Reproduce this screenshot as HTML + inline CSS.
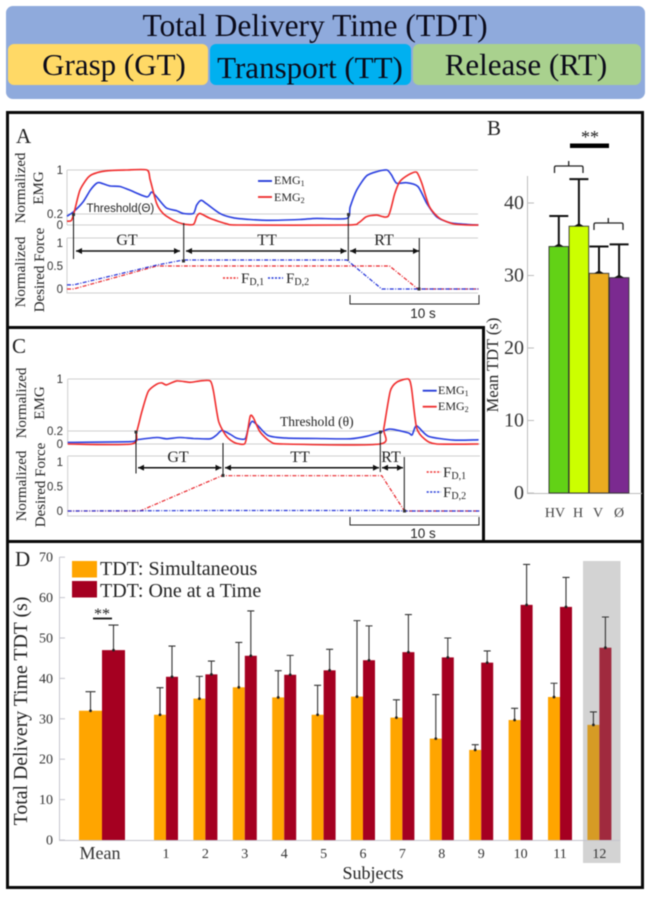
<!DOCTYPE html>
<html lang="en">
<head>
<meta charset="utf-8">
<title>Total Delivery Time figure</title>
<style>
html,body{margin:0;padding:0;background:#fff;width:650px;height:897px;overflow:hidden}
svg{display:block;font-family:"Liberation Serif",serif;filter:blur(0.4px)}
.sans{font-family:"Liberation Sans",sans-serif}
.ylab{font-size:15px;fill:#222;text-anchor:middle}
.seg{font-size:16px;fill:#222;text-anchor:middle}
.leg{font-size:12px;fill:#222}
.legf{font-size:15px;fill:#222}
.sub{font-size:8px}
.legf .sub{font-size:10px}
.letter{font-size:21px;fill:#222}
.head{fill:#0b0b1a;text-anchor:middle}
</style>
</head>
<body>
<svg id="fig" xmlns="http://www.w3.org/2000/svg" width="650" height="897" viewBox="0 0 650 897">
<defs>
<marker id="ah" markerWidth="7" markerHeight="7" refX="6" refY="3" orient="auto-start-reverse" markerUnits="userSpaceOnUse"><path d="M0,0 L6,3 L0,6 Z" fill="#111"/></marker>
</defs>

<g>
<rect x="6" y="6" width="639" height="93" rx="7" fill="#8faadc"/>
<text class="head" x="315" y="36" font-size="31.5">Total Delivery Time (TDT)</text>
<rect x="8" y="44" width="200" height="41" rx="6" fill="#ffd966"/>
<text class="head" x="114" y="75" font-size="31">Grasp (GT)</text>
<rect x="210" y="44" width="201" height="41" rx="6" fill="#00b0f0"/>
<text class="head" x="310" y="78" font-size="31">Transport (TT)</text>
<rect x="413" y="44" width="228" height="41" rx="6" fill="#a9d18e"/>
<text class="head" x="526" y="75" font-size="31">Release (RT)</text>
</g>

<g fill="none" stroke="#0a0a0a" stroke-width="3">
<rect x="7.5" y="112.5" width="635" height="775"/>
<path d="M7,327.5 H483.5 V541"/>
<path d="M7,541.5 H643"/>
</g>

<text class="letter" x="16" y="143">A</text>
<text class="letter" x="487" y="135">B</text>
<text class="letter" x="12" y="353">C</text>
<text class="letter" x="15" y="566">D</text>

<g id="panelA"></g>
<g id="panelC"></g>

<g>
<text class="ylab" transform="translate(25,188) rotate(-90)">Normalized</text>
<text class="ylab" transform="translate(43,188) rotate(-90)">EMG</text>
<text class="ylab" transform="translate(25,272) rotate(-90)">Normalized</text>
<text class="ylab" transform="translate(44,270) rotate(-90)">Desired Force</text>
<text class="sans" x="86.5" y="212" font-size="11.5" fill="#222">Threshold(Θ)</text>
<g stroke="#111" stroke-width="1" fill="none">
<path d="M73.5,214V259"/>
<path d="M183.7,223V261"/>
<path d="M348.3,215V261"/>
<path d="M419.3,238V288"/>
<g stroke-width="1.5">
<path d="M76,251H180" marker-start="url(#ah)" marker-end="url(#ah)"/>
<path d="M186,251H346.5" marker-start="url(#ah)" marker-end="url(#ah)"/>
<path d="M350,251H419" marker-start="url(#ah)" marker-end="url(#ah)"/>
</g>
</g>
<g fill="#333">
<rect x="72" y="213" width="3" height="3"/>
<rect x="182" y="259.5" width="3" height="3"/>
<rect x="347" y="213" width="3" height="3"/>
<rect x="417.5" y="287.5" width="3" height="3"/>
</g>
<text class="seg" x="127" y="245">GT</text>
<text class="seg" x="267" y="245">TT</text>
<text class="seg" x="384" y="245">RT</text>
<path d="M258,181H272" stroke="#1f35d8" stroke-width="1.8"/>
<text class="leg" x="274" y="184">EMG<tspan class="sub" dy="2">1</tspan></text>
<path d="M258,197H272" stroke="#ee2a2a" stroke-width="1.8"/>
<text class="leg" x="274" y="201">EMG<tspan class="sub" dy="2">2</tspan></text>
<path d="M223,278H238" stroke="#ee2a2a" stroke-width="1.4" stroke-dasharray="2 1.5"/>
<text class="legf" x="241" y="283">F<tspan class="sub" dy="2">D,1</tspan></text>
<path d="M268,278H283" stroke="#1f35d8" stroke-width="1.4" stroke-dasharray="2 1.5"/>
<text class="legf" x="286" y="283">F<tspan class="sub" dy="2">D,2</tspan></text>
<path d="M350,295V304H479V295" fill="none" stroke="#222" stroke-width="1"/>
<text class="sans" x="423" y="318" font-size="13.5" fill="#222" text-anchor="middle">10 s</text>
</g>

<g>
<text class="ylab" transform="translate(26,403) rotate(-90)">Normalized</text>
<text class="ylab" transform="translate(44,403) rotate(-90)">EMG</text>
<text class="ylab" transform="translate(26,486) rotate(-90)">Normalized</text>
<text class="ylab" transform="translate(45,485) rotate(-90)">Desired Force</text>
<text x="280" y="426" font-size="13.5" fill="#222">Threshold (θ)</text>
<g stroke="#111" stroke-width="1" fill="none">
<path d="M136,431V473.5"/>
<path d="M223,443V476"/>
<path d="M380.3,432V472"/>
<path d="M404.3,457V511"/>
<path d="M138,467.7H221.5" stroke-width="1.5" marker-start="url(#ah)" marker-end="url(#ah)"/>
<path d="M225,467.7H379" stroke-width="1.5" marker-start="url(#ah)" marker-end="url(#ah)"/>
<path d="M382,467.7H403" stroke-width="1.5" marker-start="url(#ah)" marker-end="url(#ah)"/>
</g>
<g fill="#333">
<rect x="134.5" y="430.5" width="3" height="3"/>
<rect x="221.5" y="474" width="3" height="3"/>
<rect x="379" y="430.5" width="3" height="3"/>
<rect x="403" y="509.5" width="3" height="3"/>
</g>
<text class="seg" x="178" y="462">GT</text>
<text class="seg" x="300" y="462">TT</text>
<text class="seg" x="391" y="462">RT</text>
<path d="M422.7,390.7H436.7" stroke="#1f35d8" stroke-width="1.8"/>
<text class="leg" x="438" y="394">EMG<tspan class="sub" dy="2">1</tspan></text>
<path d="M422.7,406.7H436.7" stroke="#ee2a2a" stroke-width="1.8"/>
<text class="leg" x="438" y="410">EMG<tspan class="sub" dy="2">2</tspan></text>
<path d="M426.7,472H441" stroke="#ee2a2a" stroke-width="1.4" stroke-dasharray="2 1.5"/>
<text class="legf" x="443" y="477">F<tspan class="sub" dy="2">D,1</tspan></text>
<path d="M426.7,492H441" stroke="#1f35d8" stroke-width="1.4" stroke-dasharray="2 1.5"/>
<text class="legf" x="443" y="497">F<tspan class="sub" dy="2">D,2</tspan></text>
<path d="M350,517V525H479V517" fill="none" stroke="#222" stroke-width="1"/>
<text class="sans" x="423" y="538" font-size="13.5" fill="#222" text-anchor="middle">10 s</text>
</g>

<g id="panelB">
<text transform="translate(498,365) rotate(-90)" font-size="16.5" fill="#222" text-anchor="middle">Mean TDT (s)</text>
</g>
<g fill="none" stroke="#222" stroke-width="1.3">
<path d="M554.5,173V167.5Q554.5,166 556,166H581.5Q583,166 583,167.5V173M568.7,166V161"/>
<path d="M594,230V224.5Q594,223 595.5,223H621.5Q623,223 623,224.5V230M608.3,223V218"/>
<rect x="570" y="143.5" width="39" height="4.5" fill="#000" stroke="none"/>
<text x="590" y="143" font-size="18" fill="#222" stroke="none" text-anchor="middle">**</text>
</g>

<g id="panelD">
<rect x="583" y="561" width="37.5" height="302" fill="#d3d3d3"/>
<text transform="translate(27,711) rotate(-90)" font-size="19.8" fill="#222" text-anchor="middle">Total Delivery Time TDT (s)</text>
<text x="373" y="879" font-size="18" fill="#222" text-anchor="middle">Subjects</text>
</g>
<g>
<rect x="72" y="561" width="25" height="16.5" fill="#ffa500"/>
<text x="100" y="575" font-size="20" fill="#222">TDT: Simultaneous</text>
<rect x="72" y="581" width="25" height="16.5" fill="#a50021"/>
<text x="100" y="597" font-size="20" fill="#222">TDT: One at a Time</text>
<path d="M93,618.5H112" stroke="#111" stroke-width="1.8"/>
<text x="102" y="619" font-size="16" fill="#222" text-anchor="middle">**</text>
</g>

<script>
// Panel A traces (time in seconds, normalized values)
var aEmg1Times = [0,0.5,1.25,1.8,2.3,2.55,3.3,4.1,4.9,6.2,6.55,6.95,7.7,8.5,9,9.8,10.05,10.4,10.8,11.85,12.9,14.2,15.75,18.05,19.35,21.7,21.95,22.45,23.2,24,24.8,25.15,25.55,26.3,27.2,27.9,28.65,29.7,31,31.9];
var aEmg1Values = [0.16,0.24,0.42,0.63,0.76,0.77,0.71,0.70,0.63,0.51,0.60,0.51,0.31,0.26,0.21,0.21,0.36,0.45,0.39,0.21,0.13,0.10,0.085,0.10,0.12,0.12,0.33,0.63,0.89,0.97,1,0.91,0.76,0.77,0.70,0.39,0.15,0.04,0.01,0];
var aEmg2Times = [0,0.35,0.6,1,1.65,2.3,3.3,4.6,6.2,6.45,6.95,7.45,8.25,9,9.8,10.05,10.3,11.1,12.4,13.4,21.7,22.6,23.2,24,24.9,25.4,25.8,26.45,27.1,27.5,28.1,28.9,29.95,31,31.9];
var aEmg2Values = [0.07,0.085,0.27,0.63,0.87,0.95,0.99,1,1,0.82,0.39,0.21,0.085,0.02,0.01,0.15,0.21,0.12,0.02,0,0,0.04,0.15,0.18,0.16,0.57,0.79,0.91,0.96,0.76,0.33,0.12,0.02,0,0];
var aForce1Times = [0,0.5,6.95,25,27.2,31.9];
var aForce1Values = [0,0,0.5,0.5,0,0];
var aForce2Times = [0,0.5,6.95,9,21.7,24.4,31.9];
var aForce2Values = [0.09,0.09,0.52,0.63,0.63,0,0];

// Panel C traces
var cEmg1Times = [0,4.85,5.35,6.9,7.65,8.7,9.75,11.05,11.55,11.95,12.6,13.1,13.75,14,14.3,14.8,15.55,17,19.3,21.9,23.2,24.2,25,26.4,26.7,27.05,27.95,29.9,31.85];
var cEmg1Values = [0.025,0.035,0.065,0.10,0.08,0.10,0.085,0.08,0.14,0.21,0.15,0.09,0.08,0.24,0.35,0.27,0.13,0.09,0.085,0.08,0.12,0.18,0.23,0.17,0.14,0.28,0.12,0.06,0.065];
var cEmg2Times = [0,4.95,5.35,5.75,6.25,6.9,7.3,7.65,8.45,9.5,10.25,11.05,11.3,11.7,12.3,12.95,13.7,13.9,14.15,14.4,14.9,15.7,16.7,24.2,24.5,25,25.5,26.4,26.65,27.05,27.7,28.6,31.85];
var cEmg2Values = [0,0,0.19,0.5,0.81,0.92,0.94,0.91,0.97,0.95,0.97,0.97,0.81,0.35,0.12,0.02,0,0.14,0.43,0.40,0.19,0.04,0,0,0.24,0.81,0.95,1,0.86,0.25,0.07,0,0];
var cForce1Times = [0,5.6,11.95,24.35,26.1,31.9];
var cForce1Values = [0,0,0.72,0.72,0,0];
var cForce2Times = [0,11.95,24.35,26.1,31.9];
var cForce2Values = [0,0.01,0.01,0,0];

var emgTicks = [0,0.2,1];
var emgTickLabels = ['0','0.2','1'];
var forceTicks = [0,0.5,1];
var forceTickLabels = ['0','0.5','1'];

// Panel B data
var bCategories = ['HV','H','V','Ø'];
var bMeans = [34,36.8,30.3,29.7];
var bUpper = [38.2,43.3,34,34.3];
var bTicks = [0,10,20,30,40];

// Panel D data
var dCategories = ['Mean','1','2','3','4','5','6','7','8','9','10','11','12'];
var dSimultaneous = [32,31,35,37.8,35.3,31,35.5,30.3,25.1,22.3,29.7,35.4,28.5];
var dSimultaneousUpper = [36.7,37.7,40.5,48.9,41.9,38.3,54.3,34.7,36,23.6,32.6,38.8,31.7];
var dOneAtATime = [47,40.4,41,45.6,40.9,42,44.5,46.5,45.2,43.9,58.2,57.7,47.6];
var dOneAtATimeUpper = [53.2,48,44.3,56.7,45.7,47.2,53,55.8,50,46.8,68.2,65,55.2];
var dTicks = [0,10,20,30,40,50,60,70];

var NS = 'http://www.w3.org/2000/svg';
function mk(parent, tag, props, text) {
  var el = document.createElementNS(NS, tag);
  for (var k in props) { el.setAttribute(k, props[k]); }
  if (text !== undefined) { el.textContent = text; }
  parent.appendChild(el);
  return el;
}

function pathFrom(times, values, xf, yf) {
  return times.map(function (t, i) {
    return (i ? 'L' : 'M') + xf(t).toFixed(1) + ',' + yf(values[i]).toFixed(1);
  }).join(' ');
}

// Gently smoothed curve through the sampled trace points
function smoothFrom(times, values, xf, yf) {
  var px = times.map(xf);
  var py = values.map(yf);
  var d = 'M' + px[0].toFixed(1) + ',' + py[0].toFixed(1);
  var k = 0.12;
  for (var i = 0; i < px.length - 1; i++) {
    var a = Math.max(i - 1, 0), b = Math.min(i + 2, px.length - 1);
    d += ' C' + (px[i] + (px[i + 1] - px[a]) * k).toFixed(1) + ',' + (py[i] + (py[i + 1] - py[a]) * k).toFixed(1) +
         ' ' + (px[i + 1] - (px[b] - px[i]) * k).toFixed(1) + ',' + (py[i + 1] - (py[b] - py[i]) * k).toFixed(1) +
         ' ' + px[i + 1].toFixed(1) + ',' + py[i + 1].toFixed(1);
  }
  return d;
}

function drawTimePanel(root, prefix, cfg) {
  var xT = function (t) { return cfg.x0 + 12.9 * t; };
  var yE = function (v) { return cfg.emg0 + (cfg.emg1 - cfg.emg0) * v; };
  var yF = function (v) { return cfg.force0 + (cfg.force1 - cfg.force0) * v; };
  var grid = '#cfcfcf';

  var frame = mk(root, 'path', { d: 'M' + cfg.x0 + ',' + yE(1) + 'V' + yE(0) + 'M' + cfg.x0 + ',' + cfg.fTop + 'H' + cfg.xEnd + 'M' + cfg.x0 + ',' + cfg.fTop + 'V' + cfg.fBottom + 'H' + cfg.xEnd, fill: 'none', stroke: grid, 'stroke-width': 1 });
  
  

  emgTicks.forEach(function (v, i) {
    var g = mk(root, 'line', { x1: cfg.x0, x2: cfg.xEnd, y1: yE(v), y2: yE(v), stroke: grid, 'stroke-width': 1 });
    
    
    var t = mk(root, 'text', { x: 63, y: yE(v) + 4, 'text-anchor': 'end', 'font-size': 11.5, fill: '#333', 'class': 'sans' }, emgTickLabels[i]);
    
    
  });
  forceTicks.forEach(function (v, i) {
    var t = mk(root, 'text', { x: 63, y: yF(v) + 4, 'text-anchor': 'end', 'font-size': 11.5, fill: '#333', 'class': 'sans' }, forceTickLabels[i]);
    
    
  });

  var e1 = mk(root, 'path', { d: smoothFrom(cfg.e1t, cfg.e1v, xT, yE), fill: 'none', stroke: '#2a3fe0', 'stroke-width': 1.6, 'stroke-linejoin': 'round' });
  
  
  var e2 = mk(root, 'path', { d: smoothFrom(cfg.e2t, cfg.e2v, xT, yE), fill: 'none', stroke: '#f02c2c', 'stroke-width': 1.6, 'stroke-linejoin': 'round' });
  
  
  var f1 = mk(root, 'path', { d: pathFrom(cfg.f1t, cfg.f1v, xT, yF), fill: 'none', stroke: '#e8252b', 'stroke-width': 1.2, 'stroke-dasharray': '4 1.5 1 1.5' });
  
  
  var f2 = mk(root, 'path', { d: pathFrom(cfg.f2t, cfg.f2v, xT, yF), fill: 'none', stroke: '#2030d8', 'stroke-width': 1.2, 'stroke-dasharray': '4 1.5 1 1.5' });
  
  
}

drawTimePanel(document.getElementById('panelA'), 'a', {
  x0: 67, xEnd: 478, emg0: 225, emg1: 170, force0: 289, force1: 243, fTop: 238, fBottom: 293,
  e1t: aEmg1Times, e1v: aEmg1Values, e2t: aEmg2Times, e2v: aEmg2Values,
  f1t: aForce1Times, f1v: aForce1Values, f2t: aForce2Times, f2v: aForce2Values
});
drawTimePanel(document.getElementById('panelC'), 'c', {
  x0: 67.7, xEnd: 480, emg0: 444, emg1: 379, force0: 511, force1: 462, fTop: 456, fBottom: 516,
  e1t: cEmg1Times, e1v: cEmg1Values, e2t: cEmg2Times, e2v: cEmg2Values,
  f1t: cForce1Times, f1v: cForce1Values, f2t: cForce2Times, f2v: cForce2Values
});

// Panel B
(function () {
  var root = document.getElementById('panelB');
  var yB = function (v) { return 493 - 7.25 * v; };
  var xB = function (i) { return 549 + 20.1 * i; };
  var colors = ['#62d216', '#ccff00', '#ebab20', '#7b2a90'];
  var axis = mk(root, 'path', { d: 'M527.5,176V493.5H642', fill: 'none', stroke: '#bdbdbd', 'stroke-width': 1 });
  
  
  bTicks.forEach(function (v) {
    var tk = mk(root, 'line', { x1: 527.5, x2: 534, y1: yB(v), y2: yB(v), stroke: '#bdbdbd', 'stroke-width': 1 });
    
    
    var t = mk(root, 'text', { x: 524, y: yB(v) + 6, 'text-anchor': 'end', 'font-size': 20, fill: '#333' }, String(v));
    
    
  });
  bCategories.forEach(function (c, i) {
    var x = xB(i);
    var bar = mk(root, 'rect', { x: x, y: yB(bMeans[i]), width: 19.6, height: 493 - yB(bMeans[i]), fill: colors[i], stroke: '#333', 'stroke-width': 0.9 });
    
    
    var cx = x + 9.8;
    var err = mk(root, 'path', { d: 'M' + cx + ',' + yB(bMeans[i]) + 'V' + yB(bUpper[i]) + 'M' + (cx - 9.5) + ',' + yB(bUpper[i]) + 'H' + (cx + 9.5), fill: 'none', stroke: '#111', 'stroke-width': 2 });
    
    
    var base = mk(root, 'path', { d: 'M' + (cx - 5) + ',' + yB(bMeans[i]) + 'L' + cx + ',' + (yB(bMeans[i]) - 3) + 'L' + (cx + 5) + ',' + yB(bMeans[i]) + 'Z', fill: '#111' });
    
    
    var lab = mk(root, 'text', { x: [555, 578, 598, 619][i], y: 517, 'text-anchor': 'middle', 'font-size': 14, fill: '#444' }, c);
    
    
  });
})();

// Panel D
(function () {
  var root = document.getElementById('panelD');
  var yD = function (v) { return 840 - 4.04 * v; };
  var left = function (i) { return i === 0 ? 79 : 154 + 39.4 * (i - 1); };
  var width = function (i) { return i === 0 ? 23 : 12; };
  var axis = mk(root, 'path', { d: 'M59.5,557V840.5H620', fill: 'none', stroke: '#c6c6ce', 'stroke-width': 1 });
  
  
  dTicks.forEach(function (v) {
    var tk = mk(root, 'line', { x1: 59.5, x2: 65, y1: yD(v), y2: yD(v), stroke: '#c6c6ce', 'stroke-width': 1 });
    
    
    var t = mk(root, 'text', { x: 53, y: yD(v) + 4.5, 'text-anchor': 'end', 'font-size': 14, fill: '#333' }, String(v));
    
    
  });
  function errorBar(cx, base, top, cap, name) {
    var e = mk(root, 'path', { d: 'M' + cx + ',' + yD(base) + 'V' + yD(top) + 'M' + (cx - cap) + ',' + yD(top) + 'H' + (cx + cap), fill: 'none', stroke: '#333', 'stroke-width': 1.1 });
    
    
    var d = mk(root, 'circle', { cx: cx, cy: yD(base), r: 1.4, fill: '#222' });
    
    
  }
  dCategories.forEach(function (c, i) {
    var x = left(i), w = width(i);
    var faded = i === 12;
    var b1 = mk(root, 'rect', { x: x, y: yD(dSimultaneous[i]), width: w, height: 840 - yD(dSimultaneous[i]), fill: faded ? '#d69b25' : '#ffa500' });
    
    
    var b2 = mk(root, 'rect', { x: x + w, y: yD(dOneAtATime[i]), width: w, height: 840 - yD(dOneAtATime[i]), fill: faded ? '#a02a3e' : '#a50021' });
    
    
    var cap = i === 0 ? 5 : 3.5;
    errorBar(x + w / 2, dSimultaneous[i], dSimultaneousUpper[i], cap, 'error-simultaneous-' + c);
    errorBar(x + w * 1.5, dOneAtATime[i], dOneAtATimeUpper[i], cap, 'error-one-at-a-time-' + c);
    var lab = mk(root, 'text', { x: i === 0 ? x + w - 2 : x + w, y: i === 0 ? 859 : 858, 'text-anchor': 'middle', 'font-size': i === 0 ? 18 : 14, fill: '#333' }, c);
    
    
  });
})();
</script>
</svg>
</body>
</html>
